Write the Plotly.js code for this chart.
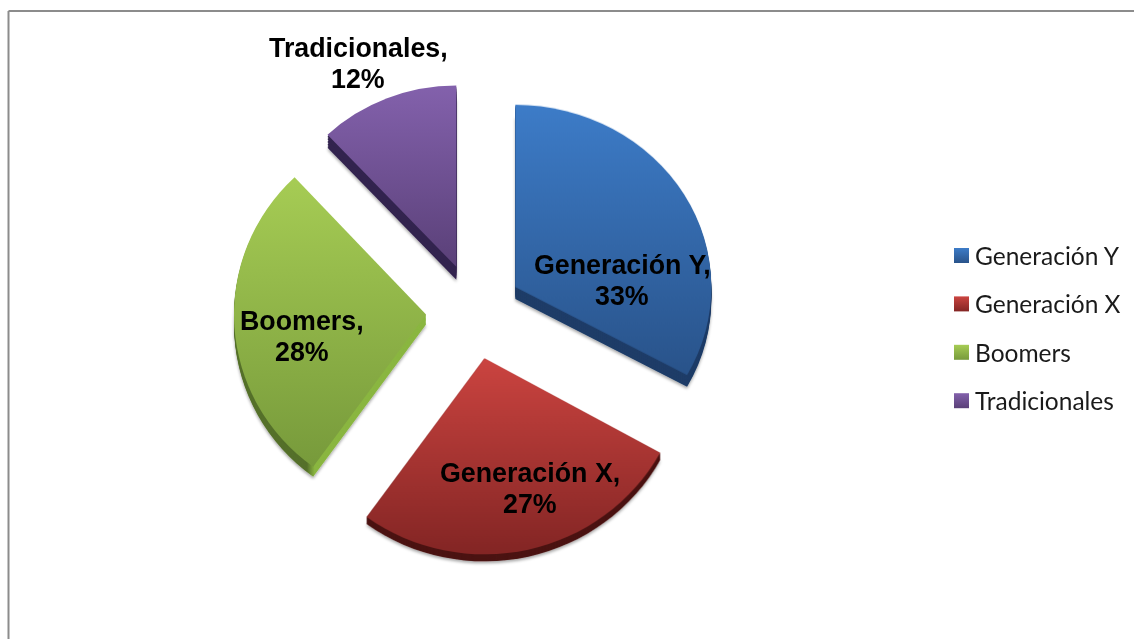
<!DOCTYPE html>
<html>
<head>
<meta charset="utf-8">
<script src="https://cdn.plot.ly/plotly-3.0.1.min.js"></script>
<style>html,body{margin:0;padding:0;background:#fff}#chart{width:1134px;height:639px}</style>
</head>
<body>
<div id="chart"></div>
<script>
// Generational shares shown as an exploded pie with a thick bevelled edge
const categories = ['Generación Y', 'Generación X', 'Boomers', 'Tradicionales'];
const shares = [33, 27, 28, 12];
const sideColors = ['#1f3d68', '#4c1413', '#8ab640', '#33244f'];
const topColors = ['#3d7cc8', '#cb4440', '#a6cc54', '#8361ac'];
const bottomColors = ['#29538a', '#832524', '#779a3b', '#5a4078'];
const explode = [0.245, 0.245, 0.245, 0.245];
const labelCenters = [[622, 265, 296], [530, 473, 504], [302, 321, 352], [358, 48, 79]];

// Per-slice tilt: back slices look shorter, front ones taller and with different edge depth
const sliceSquashY = [0.93, 1.0, 0.96, 0.925];
const sliceSquashX = [1.0, 1.023, 0.98, 0.96];
const sliceDepth = [12, 7, 10, 13];
const depthSteps = [1, 0.875, 0.75, 0.625, 0.5, 0.375, 0.25, 0.125];

const W = 1134, H = 639;
const pieCx = 474, pieCy = 311.5, pieRadius = 196;
const half = pieRadius * (1 + explode[0]);
const pullPx = pieRadius * explode[0];

function pieTrace(colors, inLegend) {
  return {
    type: 'pie', values: shares, labels: categories, sort: false,
    direction: 'clockwise', rotation: 0, pull: explode,
    domain: {
      x: [(pieCx - half) / W, (pieCx + half) / W],
      y: [1 - (pieCy + half) / H, 1 - (pieCy - half) / H]
    },
    textinfo: 'none', hoverinfo: 'skip', showlegend: inLegend,
    marker: { colors: colors, line: { width: 0 } }
  };
}

const traces = depthSteps.map(() => pieTrace(sideColors, false));
traces.push(pieTrace(topColors, true));

function annotation(text, x, y) {
  return {
    xref: 'paper', yref: 'paper', showarrow: false,
    x: x / W, y: 1 - y / H, xanchor: 'center', yanchor: 'middle', align: 'center',
    text: text,
    font: { family: '"Liberation Sans", Arial, sans-serif', size: 26.8, weight: 700, color: '#000000' }
  };
}

const layout = {
  width: W, height: H, margin: { l: 0, r: 0, t: 0, b: 0, autoexpand: false },
  paper_bgcolor: '#ffffff', plot_bgcolor: '#ffffff',
  legend: {
    x: 954 / W, y: 1 - 240 / H, xanchor: 'left', yanchor: 'top',
    bgcolor: 'rgba(0,0,0,0)', borderwidth: 0,
    font: { family: 'Lato, "Open Sans", sans-serif', size: 24.5, color: '#1a1a1a' }
  },
  shapes: [
    { type: 'line', xref: 'paper', yref: 'paper', x0: 8.5 / W, x1: 1, y0: 1 - 11 / H, y1: 1 - 11 / H, line: { color: '#8c8c8c', width: 2 } },
    { type: 'line', xref: 'paper', yref: 'paper', x0: 8.5 / W, x1: 8.5 / W, y0: 1 - 11 / H, y1: 0, line: { color: '#8c8c8c', width: 2 } }
  ],
  annotations: categories.flatMap((c, i) => [
    annotation(c + ',', labelCenters[i][0], labelCenters[i][1]),
    annotation(shares[i] + '%', labelCenters[i][0], labelCenters[i][2])
  ])
};

Plotly.newPlot('chart', traces, layout, { displayModeBar: false, staticPlot: true }).then(() => {
  const root = document.getElementById('chart');
  const svg = root.querySelector('svg.main-svg');
  const NS = 'http://www.w3.org/2000/svg';
  const defs = svg.querySelector('defs');

  function gradient(id, horizontal, stops) {
    const g = document.createElementNS(NS, 'linearGradient');
    g.id = id;
    g.setAttribute('x1', '0'); g.setAttribute('y1', '0');
    g.setAttribute('x2', horizontal ? '1' : '0'); g.setAttribute('y2', horizontal ? '0' : '1');
    stops.forEach(([o, col]) => {
      const s = document.createElementNS(NS, 'stop');
      s.setAttribute('offset', o); s.setAttribute('stop-color', col);
      g.appendChild(s);
    });
    defs.appendChild(g);
  }

  // Vertical shading for the slice tops and the legend swatches
  categories.forEach((c, i) => gradient('shade' + i, false, [[0, topColors[i]], [1, bottomColors[i]]]));
  // The Boomers edge is only lit along its straight side
  gradient('boomersEdge', true, [[0, '#55702a'], [0.38, '#55702a'], [0.42, sideColors[2]], [1, sideColors[2]]]);

  // Soft shadow below the slices
  const f = document.createElementNS(NS, 'filter');
  f.id = 'softShadow';
  f.setAttribute('x', '-10%'); f.setAttribute('y', '-10%');
  f.setAttribute('width', '120%'); f.setAttribute('height', '120%');
  const ds = document.createElementNS(NS, 'feDropShadow');
  ds.setAttribute('dx', '0'); ds.setAttribute('dy', '2');
  ds.setAttribute('stdDeviation', '1.5');
  ds.setAttribute('flood-color', '#000'); ds.setAttribute('flood-opacity', '0.35');
  f.appendChild(ds);
  defs.appendChild(f);

  // Apex of each pulled slice, from the middle angle of its share
  const total = shares.reduce((a, b) => a + b, 0);
  let running = 0;
  const apex = shares.map(v => {
    const mid = (running + v / 2) / total * 2 * Math.PI;
    running += v;
    return [pieCx + pullPx * Math.sin(mid), pieCy - pullPx * Math.cos(mid)];
  });

  // Tilt every slice about its apex; lower layers build up the edge
  const groups = root.querySelectorAll('.pielayer .trace');
  groups.forEach((g, t) => {
    const step = t < depthSteps.length ? depthSteps[t] : 0;
    g.querySelectorAll('.slice').forEach((sl, i) => {
      const [x, y] = apex[i];
      sl.setAttribute('transform',
        `translate(${x},${sliceDepth[i] * step + y}) scale(${sliceSquashX[i]},${sliceSquashY[i]}) translate(${-x},${-y})`);
      const p = sl.querySelector('path.surface');
      if (t === groups.length - 1) p.style.fill = `url(#shade${i})`;
      else if (i === 2) p.style.fill = 'url(#boomersEdge)';
    });
    if (t === 0) g.style.filter = 'url(#softShadow)';
  });

  // Open up the legend rows and enlarge the swatches
  const box = root.querySelector('.legend .scrollbox');
  if (box) box.removeAttribute('clip-path');
  root.querySelectorAll('.legend .traces').forEach((row, i) => {
    row.setAttribute('transform', `translate(0,${15.5 + i * 48.4})`);
    const sw = row.querySelector('.legendpoints path');
    if (sw) {
      sw.style.fill = `url(#shade${i})`;
      sw.style.strokeWidth = '0';
      sw.setAttribute('transform', 'translate(7.5,0) scale(1.25)');
    }
    const tx = row.querySelector('text.legendtext');
    if (tx) tx.setAttribute('x', 21);
  });
});
</script>
</body>
</html>
